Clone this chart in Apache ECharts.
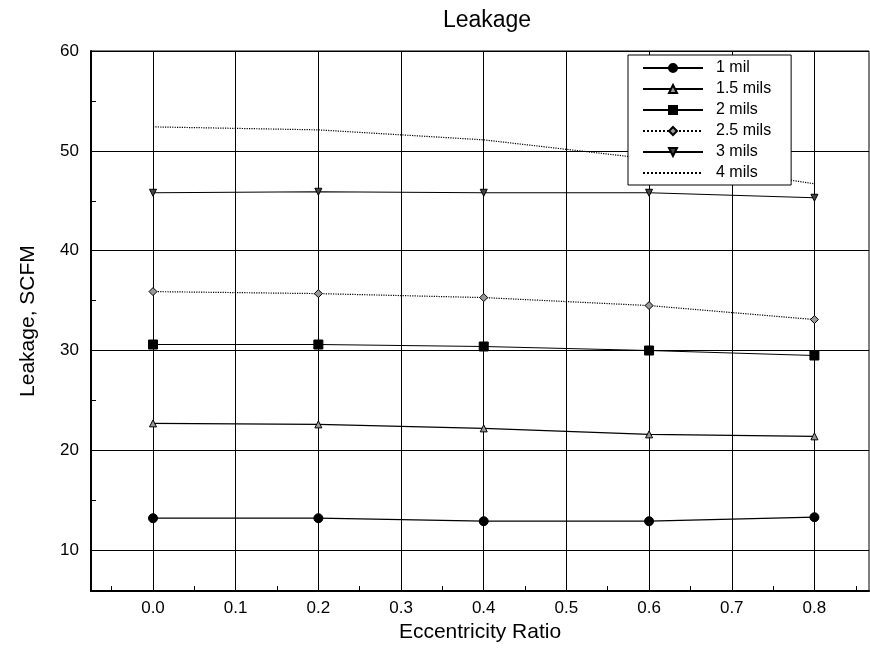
<!DOCTYPE html>
<html><head><meta charset="utf-8">
<script src="https://cdn.jsdelivr.net/npm/echarts@6/dist/echarts.min.js"></script>
<style>html,body{margin:0;padding:0;background:#fff}#c{width:870px;height:648px}</style>
</head><body><div id="c"></div>
<script>
const ratios = [0.0, 0.2, 0.4, 0.6, 0.8];
const seriesNames = ['1 mil', '1.5 mils', '2 mils', '2.5 mils', '3 mils', '4 mils'];
const mil1 = [13.2, 13.2, 12.9, 12.9, 13.3];
const mil15 = [22.7, 22.6, 22.2, 21.6, 21.4];
const mil2 = [30.6, 30.6, 30.4, 30.0, 29.5];
const mil25 = [35.9, 35.7, 35.3, 34.5, 33.1];
const mil3 = [45.8, 45.9, 45.8, 45.8, 45.3];
const mil4 = [52.4, 52.1, 51.1, 49.2, 46.7];
const yTicks = [10, 20, 30, 40, 50, 60];
const yMinorTicks = [10, 15, 20, 25, 30, 35, 40, 45, 50, 55];
const xTicks = [0.0, 0.1, 0.2, 0.3, 0.4, 0.5, 0.6, 0.7, 0.8];
const xMinorTicks = [-0.05, 0.05, 0.15, 0.25, 0.35, 0.45, 0.55, 0.65, 0.75, 0.85];

const values = [mil1, mil15, mil2, mil25, mil3, mil4];
const styles = [
  {symbol:'circle', size:9, fill:'#000', type:'solid'},
  {symbol:'triangle', size:7, fill:'#999', type:'solid'},
  {symbol:'rect', size:9, fill:'#000', type:'solid'},
  {symbol:'diamond', size:8, fill:'#999', type:'dotted'},
  {symbol:'triangle', size:7, fill:'#444', type:'solid', rotate:180},
  {symbol:'circle', size:0, fill:'#000', type:'dotted'}
];
const FONT = 'Liberation Sans, Arial, sans-serif';
const X_MIN = -0.075, X_MAX = 0.866, Y_MIN = 5.9, Y_MAX = 60;
const chart = echarts.init(document.getElementById('c'), null, {renderer:'canvas'});
chart.setOption({
  animation:false,
  backgroundColor:'#fff',
  title:{text:'Leakage', left:482, top:4, textAlign:'center',
    textStyle:{fontFamily:FONT, fontSize:23, fontWeight:'normal', color:'#000'}},
  legend:{
    orient:'vertical', left:628, top:55, width:162,
    backgroundColor:'#fff', borderColor:'#000', borderWidth:1,
    padding:[5,20,4,14], itemGap:5, itemWidth:60, itemHeight:10,
    textStyle:{fontFamily:FONT, fontSize:16, color:'#000', padding:[0,0,0,8]},
    data: seriesNames.map((n,k)=> k===5 ? {name:n, itemStyle:{opacity:0}} : {name:n})
  },
  grid:{left:91, top:51, right:1, bottom:56, show:true, borderColor:'#000', borderWidth:1},
  xAxis:[{
    type:'value', min:X_MIN, max:X_MAX,
    name:'Eccentricity Ratio', nameLocation:'middle', nameGap:30,
    nameTextStyle:{fontFamily:FONT, fontSize:21, color:'#000'},
    axisLine:{show:true, onZero:false, lineStyle:{color:'#000', width:2}},
    axisTick:{show:false, customValues:xTicks},
    axisLabel:{customValues:xTicks, fontFamily:FONT, fontSize:17, color:'#000', margin:9,
      formatter:v=>v.toFixed(1)},
    splitLine:{show:true, lineStyle:{color:'#000', width:1}}
  },{
    type:'value', min:X_MIN, max:X_MAX, position:'bottom',
    axisLine:{show:false, onZero:false},
    axisTick:{show:true, inside:true, length:5, customValues:xMinorTicks, lineStyle:{color:'#000'}},
    axisLabel:{show:false},
    splitLine:{show:false}
  }],
  yAxis:[{
    type:'value', min:Y_MIN, max:Y_MAX,
    name:'Leakage, SCFM', nameLocation:'middle', nameGap:52,
    nameTextStyle:{fontFamily:FONT, fontSize:21, color:'#000'},
    axisLine:{show:true, onZero:false, lineStyle:{color:'#000', width:2}},
    axisTick:{show:false, customValues:yTicks},
    axisLabel:{customValues:yTicks, fontFamily:FONT, fontSize:17, color:'#000', margin:12},
    splitLine:{show:true, lineStyle:{color:'#000', width:1}}
  },{
    type:'value', min:Y_MIN, max:Y_MAX, position:'left',
    axisLine:{show:false, onZero:false},
    axisTick:{show:true, inside:true, length:5, customValues:yMinorTicks, lineStyle:{color:'#000'}},
    axisLabel:{show:false},
    splitLine:{show:false}
  }],
  series: seriesNames.map((n,k)=>({
    name:n, type:'line',
    data: ratios.map((x,i)=>[x, values[k][i]]),
    symbol: styles[k].symbol, symbolSize: styles[k].size, symbolRotate: styles[k].rotate||0,
    showSymbol: styles[k].size>0,
    itemStyle:{color:styles[k].fill, borderColor:'#000', borderWidth:1},
    lineStyle:{color:'#000', width:1.2, type:styles[k].type},
    z: 3
  }))
});
</script></body></html>
